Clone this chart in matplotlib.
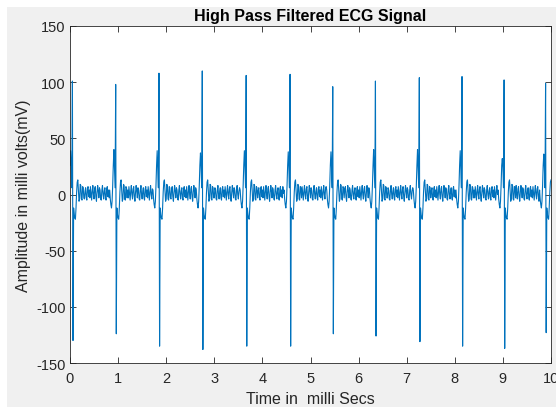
import numpy as np
import matplotlib
matplotlib.use("Agg")
import matplotlib.pyplot as plt
from matplotlib.patches import Rectangle

plt.rcParams["font.family"] = ["Liberation Sans", "DejaVu Sans"]
plt.rcParams["axes.unicode_minus"] = False

# beat positions (milli secs) and spike amplitudes
beat_times = [0.05, 0.95, 1.85, 2.75, 3.66, 4.57, 5.46, 6.35, 7.26, 8.15, 9.02, 9.89]
r_peaks = [101, 98, 108, 110, 106, 107, 96, 101, 104, 105, 102, 99]
s_troughs = [-130, -124, -135, -138, -135, -135, -124, -126, -131, -135, -137, -123]
q_bumps = [39, 40, 39, 37, 39, 38, 38, 40, 40, 39, 32, 36]

# QRS shape around each spike (sample offset -> mV); "Q"/"R"/"S" = per-beat value
beat_offsets = list(range(-10, 20))
beat_shape = [4, -4, -9, -12, -6, 8, 26, "Q", 24, 6, "R", "S", -12, -18,
              -21, -22, -12, 2, 11, 13, 4, -6, -4, 9, 8, -4, -5, 7, 6, -3]

# baseline ripple between beats
ripple = [4, -3, 7, 1, -5, 3, 8, 0, -4, 5, 7, -2, -6, 2, 8, 3,
          -3, 6, 4, -4, -5, 4, 8, 0, -4, 3, 6, -3, -5, 5, 7, -2]

dt = 0.0125
t = np.arange(0, 10 + dt / 2, dt)
sig = np.resize(np.array(ripple, dtype=float), len(t))
for bt, r, s, q in zip(beat_times, r_peaks, s_troughs, q_bumps):
    i0 = int(round(bt / dt))
    for off, v in zip(beat_offsets, beat_shape):
        i = i0 + off
        if i < 0 or i >= len(t):
            continue
        sig[i] = {"Q": q, "R": r, "S": s}[v] if isinstance(v, str) else v

fig = plt.figure(figsize=(5.56, 4.10), dpi=100, facecolor="white")
fig.patches.append(Rectangle((7 / 556, 2 / 410), 1, 400 / 410, transform=fig.transFigure,
                             facecolor="#f0f0f0", edgecolor="none", zorder=-1))
ax = fig.add_axes([70 / 556, 46 / 410, 481 / 556, 337 / 410])
ax.plot(t, sig, color="#0072BD", lw=0.8)

ax.set_xlim(0, 10)
ax.set_ylim(-150, 150)
ax.set_xticks(range(0, 11))
ax.set_yticks([-150, -100, -50, 0, 50, 100, 150])
ax.tick_params(direction="in", top=True, right=True, length=4, width=0.6,
               colors="#262626", labelsize=10.5, pad=3)
ax.tick_params(axis="x", pad=6)
for sp in ax.spines.values():
    sp.set_color("#262626")
    sp.set_linewidth(0.6)

ax.set_title("High Pass Filtered ECG Signal", fontsize=11.5, fontweight="bold", pad=4)
ax.set_xlabel("Time in  milli Secs", fontsize=11.5, color="#262626", labelpad=4)
ax.set_ylabel("Amplitude in milli volts(mV)", fontsize=11.5, color="#262626", labelpad=4)

fig.savefig("out.png", dpi=100)
